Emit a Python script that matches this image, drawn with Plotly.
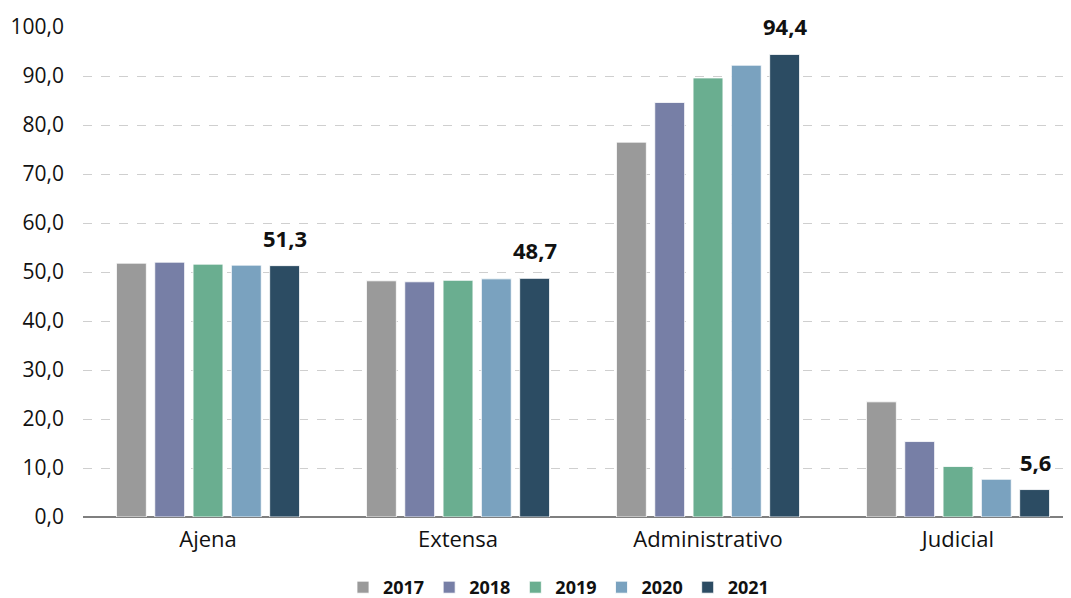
import plotly.graph_objects as go

categories = ["Ajena", "Extensa", "Administrativo", "Judicial"]
years = ["2017", "2018", "2019", "2020", "2021"]
v2017 = [51.8, 48.2, 76.5, 23.5]
v2018 = [52.0, 48.0, 84.6, 15.4]
v2019 = [51.6, 48.3, 89.6, 10.3]
v2020 = [51.4, 48.6, 92.2, 7.7]
v2021 = [51.3, 48.7, 94.4, 5.6]
series = [v2017, v2018, v2019, v2020, v2021]
colors = ["#9a9a9a", "#777fa6", "#6aae90", "#7aa2bf", "#2c4c63"]
yticks = [0, 10, 20, 30, 40, 50, 60, 70, 80, 90, 100]

fig = go.Figure()
for i, (yr, vals) in enumerate(zip(years, series)):
    fig.add_trace(go.Bar(
        x=categories, y=vals, name=yr,
        marker=dict(color=colors[i], line=dict(color="rgba(255,255,255,0.8)", width=1)),
    ))

# value labels on the 2021 bars
for cat, val in zip(categories, v2021):
    fig.add_annotation(
        x=cat, y=val, text=f"{val:.1f}".replace(".", ","),
        xref="x", yref="y", xanchor="center", yanchor="bottom",
        xshift=77, yshift=11, showarrow=False,
        font=dict(family="Open Sans", size=22, color="#111111", weight="bold"),
    )

fig.update_layout(
    width=1071, height=598,
    paper_bgcolor="white", plot_bgcolor="white",
    margin=dict(l=75, r=8, t=19, b=89),
    barmode="group", bargap=0.234, bargroupgap=0.22,
    separators=",.",
    font=dict(family="Open Sans", size=19, color="#111111"),
    showlegend=True,
    legend=dict(orientation="h", xref="container", x=0.514, xanchor="center",
                yref="container", y=-0.018, yanchor="bottom",
                font=dict(size=18, weight="bold"), traceorder="normal"),
    xaxis=dict(showline=False, ticks="", tickfont=dict(size=22), automargin=False,
               range=[-0.5, 3.452], ticklabelstandoff=7),
    yaxis=dict(range=[0, 100], tickvals=yticks, tickformat=".1f",
               showgrid=True, gridcolor="#cfcfcf", griddash="dash", gridwidth=1,
               zeroline=True, zerolinecolor="#7f7f7f", zerolinewidth=2,
               ticks="", ticklabelstandoff=18, tickfont=dict(size=21), automargin=False),
)

fig.write_html("out.html")
